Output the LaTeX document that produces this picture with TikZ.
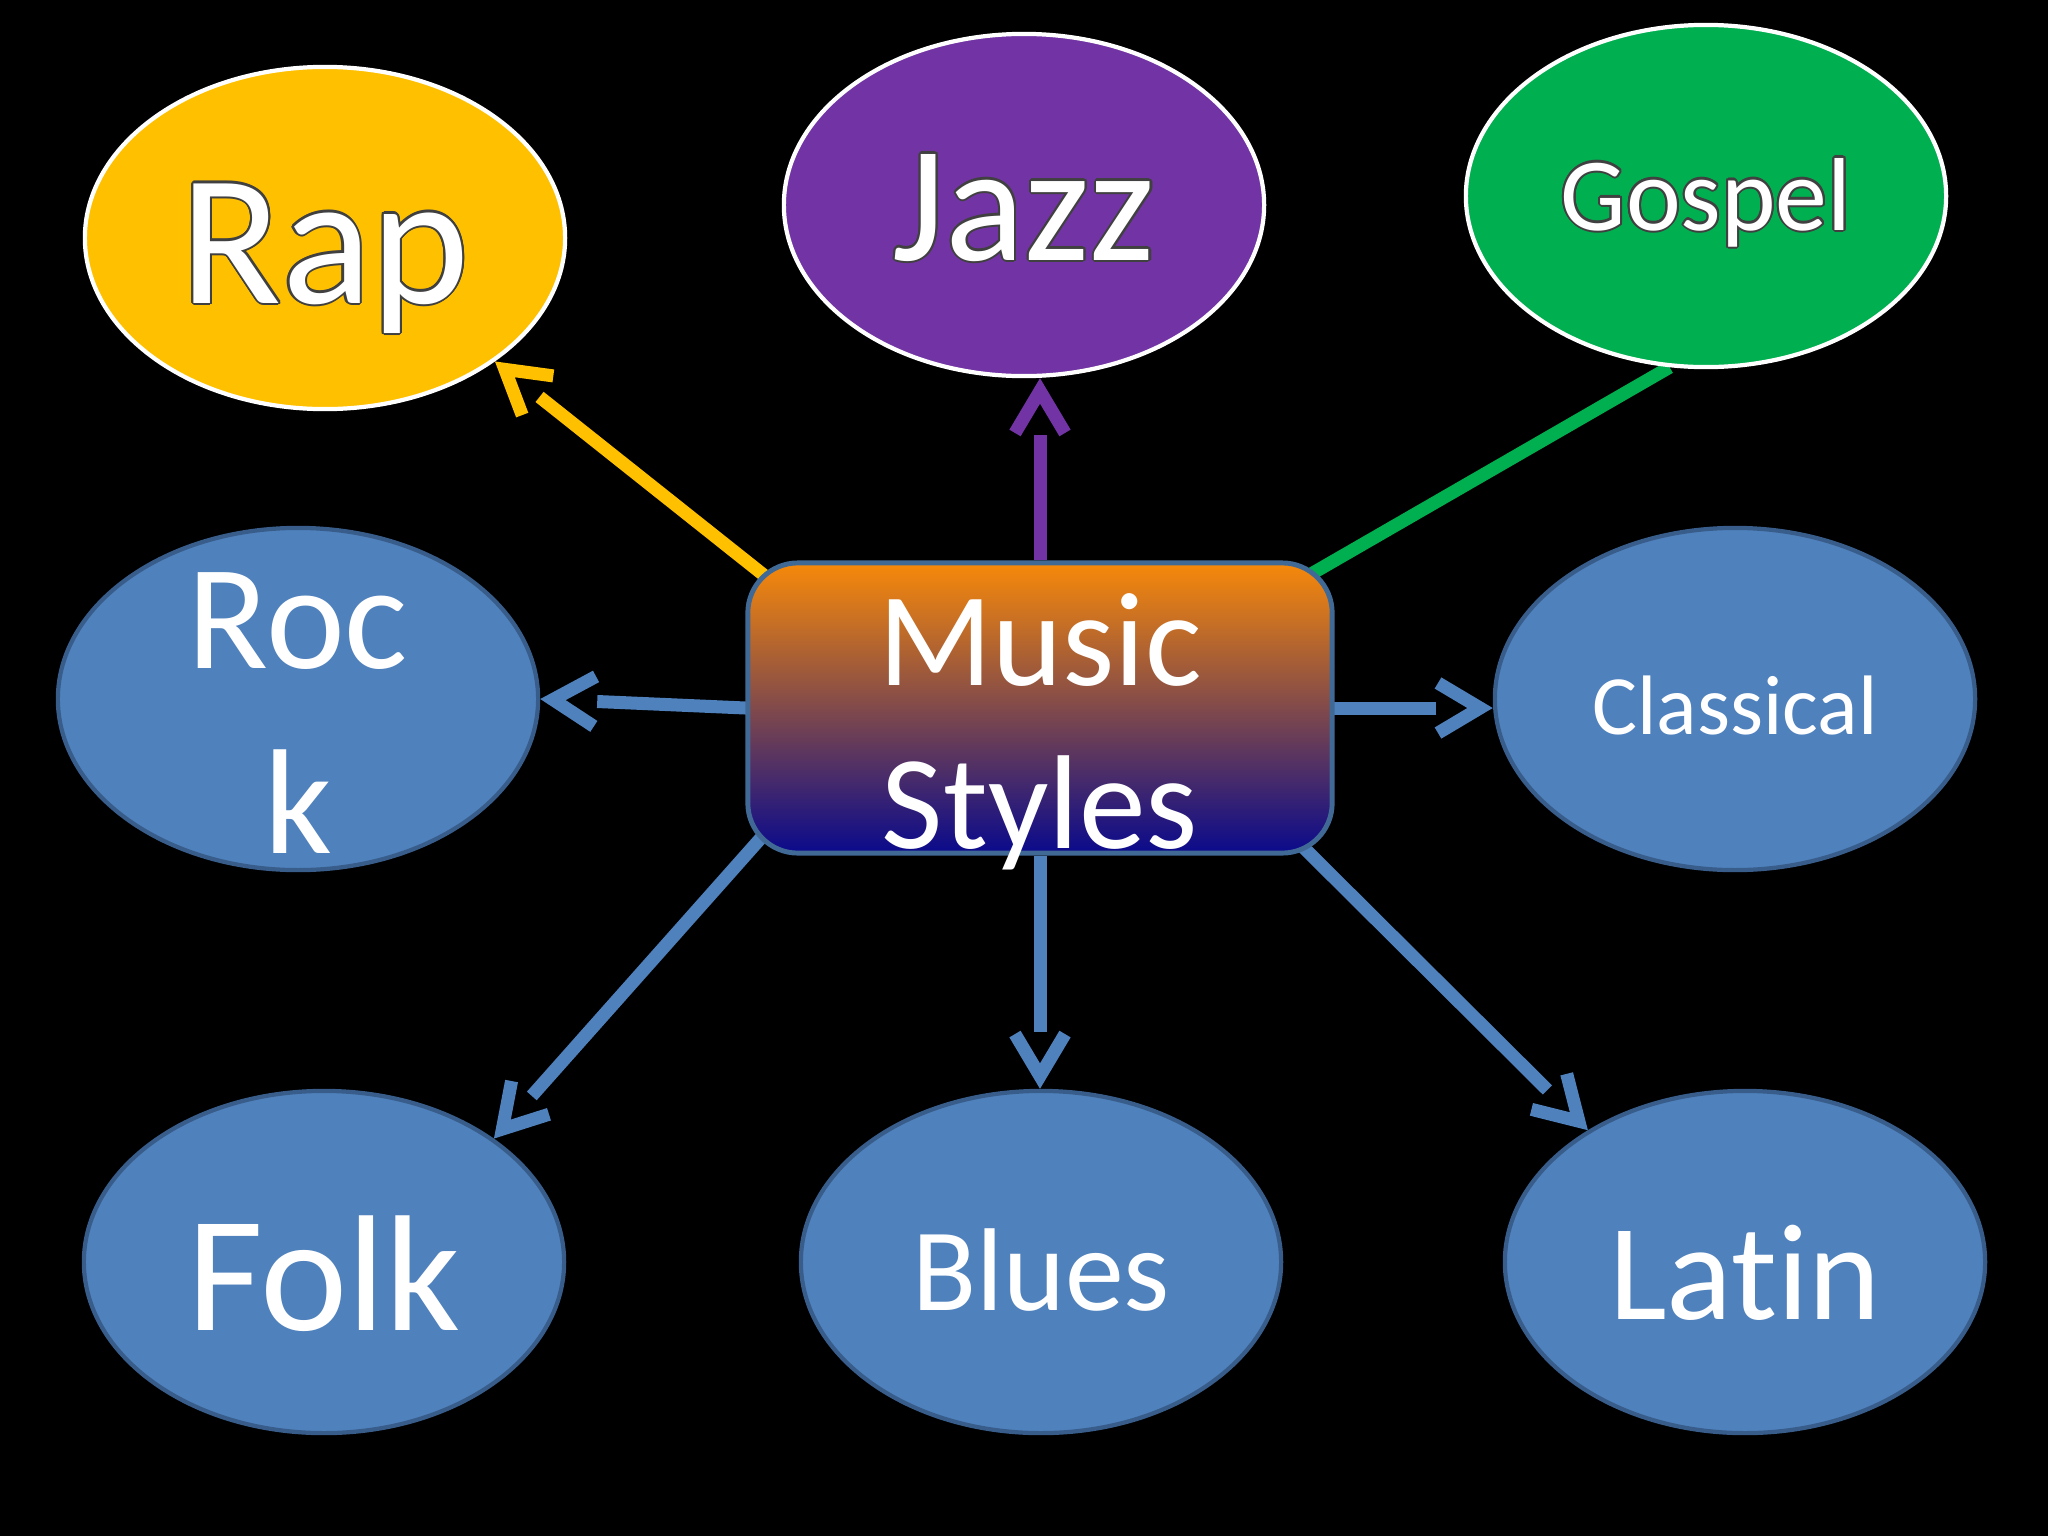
\documentclass[tikz,border=0pt]{standalone}
\usepackage{fontspec}
\setmainfont{Carlito}[Ligatures=CommonOff]
\usepackage{contour}
\contourlength{0.6pt}
\usetikzlibrary{arrows.meta,backgrounds,shapes.geometric}

\definecolor{ofblue}{RGB}{79,129,189}
\definecolor{ofedge}{RGB}{56,93,138}
\definecolor{rapgold}{RGB}{255,192,0}
\definecolor{jazzpurple}{RGB}{114,52,164}
\definecolor{gospelgreen}{RGB}{0,176,80}
\definecolor{boxtop}{RGB}{247,137,10}
\definecolor{boxmid}{RGB}{125,62,82}
\definecolor{boxbot}{RGB}{10,10,140}
\definecolor{boxedge}{RGB}{65,105,150}
\definecolor{outl}{RGB}{64,64,64}

\newcommand{\gsize}[2]{\fontsize{#1pt}{#2pt}\selectfont}

\begin{document}
\begin{tikzpicture}[x=0.01cm,y=-0.01cm,
  genre/.style={ellipse, minimum width=4.8cm, minimum height=3.42cm, line width=1.2pt, inner sep=0pt},
  bluegenre/.style={genre, fill=ofblue, draw=ofedge},
  hotgenre/.style={genre, fill=#1, draw=white},
  gtxt/.style={text=white},
  onebase/.style={gtxt, text height=0pt, text depth=0pt},
  conn/.style={draw=#1, line width=3.7pt, shorten >=0.57cm,
    postaction={draw=#1, shorten >=0pt, dash pattern=on 0pt off 100cm,
      -{Straight Barb[sharp, length=0.42cm, width=0.5cm]}}},
  link/.style={draw=#1, line width=3.7pt}
]
\begin{scope}[on background layer]
\fill[black] (0,0) rectangle (2048,1536);
\end{scope}

\node[shade, top color=boxtop, middle color=boxmid, bottom color=boxbot, draw=boxedge,
  line width=1.4pt, rounded corners=0.5cm, minimum width=5.84cm, minimum height=2.9cm,
  label={[gtxt, yshift=-0.24cm, align=center, font=\gsize{38}{46.4}]center:Music\\Styles}]
  (box) at (1040,708) {};

\node[hotgenre=rapgold, label={[onebase, yshift=-0.65cm, font=\gsize{53}{64}]center:\contour{outl}{Rap}}] (rap) at (325,238) {};
\node[hotgenre=jazzpurple, label={[onebase, yshift=-0.55cm, font=\gsize{47}{57}]center:\contour{outl}{Jazz}}] (jazz) at (1024,205) {};
\node[hotgenre=gospelgreen, label={[onebase, yshift=-0.34cm, font=\gsize{29.5}{36}]center:\contour{outl}{Gospel}}] (gospel) at (1706,196) {};

\node[bluegenre, label={[gtxt, yshift=-0.145cm, align=center, font=\gsize{42.5}{52.6}]center:Roc\\k}] (rock) at (298,699) {};
\node[bluegenre, label={[onebase, yshift=-0.35cm, font=\gsize{24}{29}]center:Classical}] (classical) at (1735,699) {};
\node[bluegenre, label={[onebase, yshift=-0.68cm, font=\gsize{47}{57}]center:Folk}] (folk) at (324,1262) {};
\node[bluegenre, label={[onebase, yshift=-0.48cm, font=\gsize{33.5}{41}]center:Blues}] (blues) at (1041,1262) {};
\node[bluegenre, label={[onebase, yshift=-0.57cm, font=\gsize{39}{48}]center:Latin}] (latin) at (1745,1262) {};

% connectors sit behind the shapes
\begin{scope}[on background layer]
\draw[conn=rapgold, shorten <=-0.3cm] (box.north west) -- (rap.-36);
\draw[conn=jazzpurple] (box.north) -- (box.north |- jazz.south);
\draw[link=gospelgreen, shorten <=-0.3cm] (box.north east) -- (gospel.-102);
\draw[conn=ofblue, shorten <=-0.2cm] (box.west) -- (rock.east);
\draw[conn=ofblue, shorten <=-0.2cm] (box.east) -- (box.east -| classical.west);
\draw[conn=ofblue, shorten <=-0.3cm] (box.south west) -- (folk.36);
\draw[conn=ofblue] (box.south) -- (box.south |- blues.north);
\draw[conn=ofblue, shorten <=-0.3cm] ([xshift=-0.23cm]box.south east) -- (latin.140);
\end{scope}
\end{tikzpicture}
\end{document}
